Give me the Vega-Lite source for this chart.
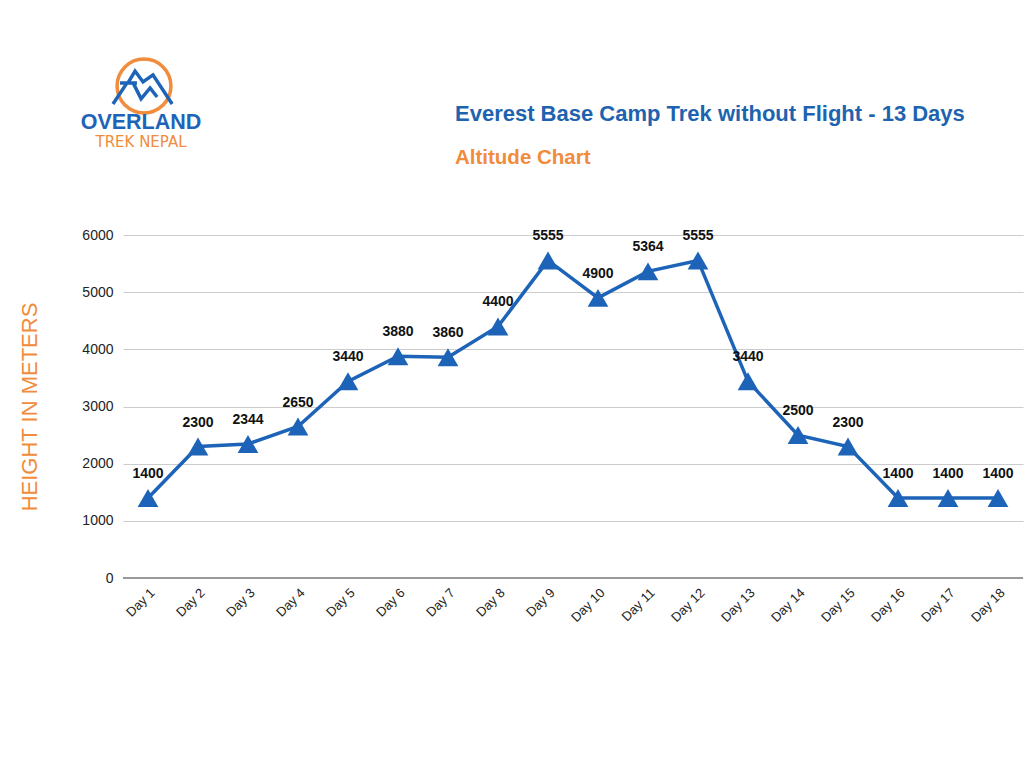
{
  "$schema": "https://vega.github.io/schema/vega-lite/v6.json",
  "width": 900,
  "height": 343,
  "autosize": {"type": "none"},
  "padding": {"left": 123, "top": 235, "right": 1, "bottom": 190},
  "background": "white",
  "config": {
    "view": {"stroke": null},
    "font": "Liberation Sans"
  },
  "datasets": {
    "alt": [
      {"day": "Day 1", "alt": 1400},
      {"day": "Day 2", "alt": 2300},
      {"day": "Day 3", "alt": 2344},
      {"day": "Day 4", "alt": 2650},
      {"day": "Day 5", "alt": 3440},
      {"day": "Day 6", "alt": 3880},
      {"day": "Day 7", "alt": 3860},
      {"day": "Day 8", "alt": 4400},
      {"day": "Day 9", "alt": 5555},
      {"day": "Day 10", "alt": 4900},
      {"day": "Day 11", "alt": 5364},
      {"day": "Day 12", "alt": 5555},
      {"day": "Day 13", "alt": 3440},
      {"day": "Day 14", "alt": 2500},
      {"day": "Day 15", "alt": 2300},
      {"day": "Day 16", "alt": 1400},
      {"day": "Day 17", "alt": 1400},
      {"day": "Day 18", "alt": 1400}
    ],
    "one": [{"k": 1}]
  },
  "data": {"name": "alt"},
  "encoding": {
    "x": {
      "field": "day", "type": "ordinal", "sort": null,
      "scale": {"type": "point", "padding": 0.5},
      "axis": {
        "title": null, "labelAngle": -45, "labelFontSize": 13, "labelColor": "#222",
        "ticks": false, "domain": false, "labelPadding": 8, "grid": false
      }
    },
    "y": {
      "field": "alt", "type": "quantitative",
      "scale": {"domain": [0, 6000]},
      "axis": {
        "title": "HEIGHT IN METERS", "titleColor": "#F08C3C", "titleFontSize": 22,
        "titleFontWeight": "normal", "titlePadding": 40,
        "values": [0, 1000, 2000, 3000, 4000, 5000, 6000],
        "labelFontSize": 14, "labelColor": "#222", "labelPadding": 10,
        "ticks": false, "domain": false, "gridColor": "#cccccc", "format": "d"
      }
    }
  },
  "layer": [
    {"mark": {"type": "line", "color": "#1D64B8", "strokeWidth": 3.5}},
    {"mark": {"type": "point", "shape": "triangle-up", "filled": true, "size": 430, "color": "#1D64B8", "opacity": 1}},
    {"mark": {"type": "text", "dy": -24, "fontSize": 14, "fontWeight": "bold", "color": "#111"}, "encoding": {"text": {"field": "alt", "type": "quantitative", "format": "d"}}},
    {"mark": {"type": "rule", "color": "#999", "strokeWidth": 1}, "encoding": {"y": {"datum": 0}, "x": null}},
    {"data": {"name": "one"}, "mark": {"type": "text", "text": "Everest Base Camp Trek without Flight - 13 Days", "font": "Liberation Sans", "fontWeight": "bold", "fontSize": 22, "color": "#1E63B0", "x": 332, "y": -114, "align": "left", "baseline": "alphabetic"}, "encoding": {"x": null, "y": null}},
    {"data": {"name": "one"}, "mark": {"type": "text", "text": "Altitude Chart", "font": "Liberation Sans", "fontWeight": "bold", "fontSize": 20.5, "color": "#F08C3C", "x": 332, "y": -71, "align": "left", "baseline": "alphabetic"}, "encoding": {"x": null, "y": null}},
    {"data": {"name": "one"}, "mark": {"type": "point", "shape": "circle", "filled": false, "size": 2900, "stroke": "#F08C3C", "strokeWidth": 3.5, "opacity": 1, "x": 21, "y": -149}, "encoding": {"x": null, "y": null}},
    {"data": {"name": "one"}, "mark": {"type": "point", "shape": "M-0.53,-0.16 L-0.97,0.5 M-0.75,-0.16 L-0.22,-0.16 M-0.5,-0.16 L-0.28,-0.53 L-0.03,-0.19 L0.28,-0.41 L0.88,0.5 M-0.34,-0.16 L-0.09,0.34 L0.19,0 L0.41,0.28", "filled": false, "size": 4096, "stroke": "#1D64B8", "strokeWidth": 3.5, "opacity": 1, "x": 21, "y": -147}, "encoding": {"x": null, "y": null}},
    {"data": {"name": "one"}, "mark": {"type": "text", "text": "OVERLAND", "font": "Liberation Sans", "fontWeight": "bold", "fontSize": 21.5, "color": "#1D64B8", "x": 18, "y": -112, "align": "center", "baseline": "middle"}, "encoding": {"x": null, "y": null}},
    {"data": {"name": "one"}, "mark": {"type": "text", "text": "TREK NEPAL", "font": "DejaVu Sans", "fontSize": 15, "color": "#F08C3C", "x": 18, "y": -93, "align": "center", "baseline": "middle"}, "encoding": {"x": null, "y": null}}
  ]
}
